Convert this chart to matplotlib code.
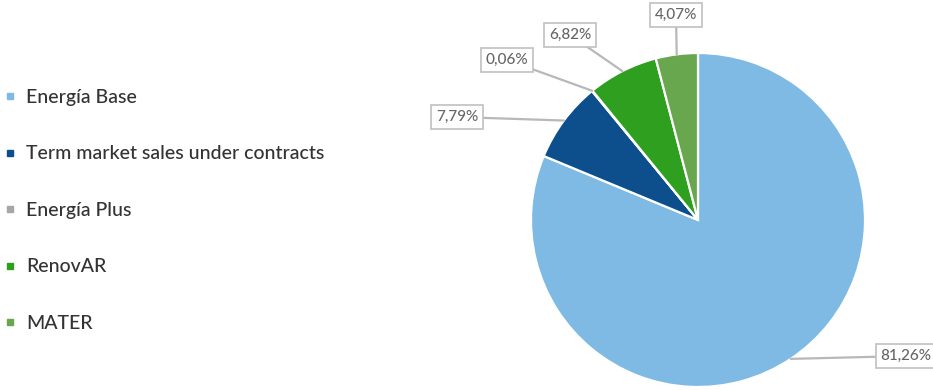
import matplotlib
matplotlib.use("Agg")
import matplotlib.pyplot as plt
from matplotlib.lines import Line2D
import numpy as np

# Shares of energy sold by market segment (%)
categories = ["Energía Base", "Term market sales under contracts", "Energía Plus", "RenovAR", "MATER"]
shares = [81.26, 7.79, 0.06, 6.82, 4.07]
colors = ["#7fbae4", "#0c4f8c", "#a6a6a6", "#2e9f1f", "#69a74f"]

# label box centres in figure pixels (from top-left)
label_px = [(906, 356), (457, 117), (507, 60), (570, 35), (676, 15)]

W, H = 933, 390
fig = plt.figure(figsize=(W / 100, H / 100), dpi=100)
plt.rcParams["font.family"] = ["Lato", "DejaVu Sans"]

cx, cy, r = 698, 220, 167
ax = fig.add_axes([(cx - r) / W, (H - cy - r) / H, 2 * r / W, 2 * r / H])
wedges, _ = ax.pie(shares, colors=colors, startangle=90, counterclock=False,
                   radius=1, wedgeprops=dict(edgecolor="white", linewidth=1.6))
ax.set_xlim(-1, 1)
ax.set_ylim(-1, 1)
ax.set_aspect("auto")
ax.axis("off")

for w, v, (lx, ly) in zip(wedges, shares, label_px):
    mid = np.deg2rad((w.theta1 + w.theta2) / 2)
    txt = f"{v:.2f}".replace(".", ",") + "%"
    ax.annotate(txt, xy=(np.cos(mid), np.sin(mid)), xycoords="data",
                xytext=(lx, H - ly), textcoords="figure pixels",
                ha="center", va="center", fontsize=11, color="#666666",
                fontweight="medium",
                bbox=dict(boxstyle="square,pad=0.3", fc="white", ec="#c0c0c0", lw=1.2),
                arrowprops=dict(arrowstyle="-", color="#b8b8b8", lw=1.6,
                                shrinkA=0, shrinkB=0),
                annotation_clip=False)

handles = [Line2D([], [], ls="none", marker="s", markersize=4.5,
                  markerfacecolor=c, markeredgecolor=c) for c in colors]
leg = fig.legend(handles, categories, loc="upper left",
                 bbox_to_anchor=(4 / W, 1 - 89 / H),
                 frameon=False, labelcolor="#333333",
                 prop=dict(size=14, weight="medium"),
                 handlelength=0.6, handletextpad=0.55, labelspacing=2.03,
                 borderaxespad=0, borderpad=0)

fig.savefig("out.png", dpi=100, facecolor="white")
